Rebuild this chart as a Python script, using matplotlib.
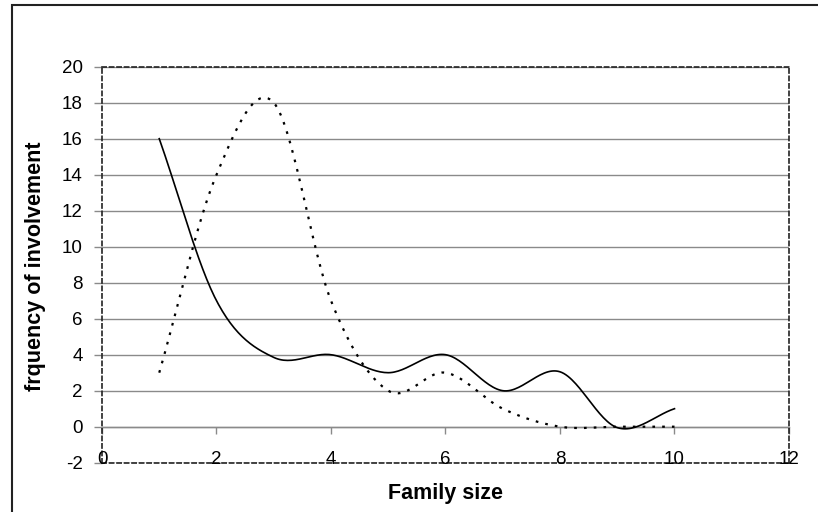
import matplotlib
matplotlib.use('Agg')
import matplotlib.pyplot as plt
import matplotlib.transforms as mtransforms
from matplotlib.patches import Rectangle
import numpy as np

plt.rcParams['font.family'] = ['Liberation Sans', 'DejaVu Sans']
plt.rcParams['axes.unicode_minus'] = False

# Data
family_size = [1, 2, 3, 4, 5, 6, 7, 8, 9, 10]
solid_freq = [16, 7, 3.85, 4, 3, 4, 2, 3.05, -0.05, 1]
dotted_freq = [3, 14, 18, 7, 2, 3, 1, 0, 0, 0]
x_ticks = [0, 2, 4, 6, 8, 10, 12]
y_ticks = [-2, 0, 2, 4, 6, 8, 10, 12, 14, 16, 18, 20]


def smooth(x, y, n=30):
    # Excel-like smoothed line: cubic Bezier through every point
    p = np.column_stack([x, y]).astype(float)
    p = np.vstack([2 * p[0] - p[1], p, 2 * p[-1] - p[-2]])
    t = np.linspace(0, 1, n)[:, None]
    out = []
    for i in range(1, len(p) - 2):
        b0 = p[i]
        b1 = p[i] + (p[i + 1] - p[i - 1]) / 6
        b2 = p[i + 1] - (p[i + 2] - p[i]) / 6
        b3 = p[i + 1]
        seg = ((1 - t) ** 3) * b0 + 3 * ((1 - t) ** 2) * t * b1 + 3 * (1 - t) * t ** 2 * b2 + t ** 3 * b3
        out.append(seg if i == 1 else seg[1:])
    seg = np.vstack(out)
    return seg[:, 0], seg[:, 1]


W, H = 818, 512
fig = plt.figure(figsize=(W / 100, H / 100), dpi=100)
ax = fig.add_axes([102 / W, 1 - 462.7 / H, 687 / W, 396 / H])

grey = '#8a8a8a'

# outer chart border
fig.patches.append(Rectangle((12 / W, -0.2), 1.2, (H - 5) / H + 0.2, transform=fig.transFigure,
                             fill=False, edgecolor='#222222', lw=1.5))

sx, sy = smooth(family_size, solid_freq)
dx, dy = smooth(family_size, dotted_freq)
ax.plot(sx, sy, color='black', lw=1.2, zorder=3)
ax.plot(dx, dy, color='black', lw=1.6, linestyle=(0, (1.2, 3.2)), zorder=3)

ax.set_xlim(0, 12)
ax.set_ylim(-2, 20)
ax.set_yticks(y_ticks)
ax.set_xticks(x_ticks)
ax.yaxis.grid(True, color=grey, lw=1)
ax.set_axisbelow(True)
ax.tick_params(axis='y', length=6, width=1, color=grey, pad=8, labelsize=13.5)
ax.tick_params(axis='x', length=0, labelbottom=False)

for s in ax.spines.values():
    s.set_linestyle((0, (2.5, 2)))
    s.set_color('#222222')
    s.set_linewidth(1.2)

# category axis crossing at y = 0
sec = ax.secondary_xaxis(0, transform=ax.transData)
sec.set_xticks(x_ticks)
sec.tick_params(axis='x', direction='out', length=5, width=1, color=grey, labelbottom=False)
sec.spines['bottom'].set_color(grey)
sec.spines['bottom'].set_linewidth(1)

# tick labels sit on the bottom border
off = mtransforms.ScaledTranslation(0, 3 / 100, fig.dpi_scale_trans)
trans = mtransforms.blended_transform_factory(ax.transData, ax.transAxes) + off
for xt in x_ticks:
    ax.text(xt, 0, str(xt), transform=trans, ha='center', va='center', fontsize=13.5, zorder=5)

fig.text(445.5 / W, 1 - 499 / H, 'Family size', ha='center', va='baseline',
         fontsize=15.5, fontweight='bold')
fig.text(36 / W, 1 - 266 / H, 'frquency of involvement', ha='center', va='center',
         rotation=90, fontsize=15.5, fontweight='bold')

fig.savefig('out.png', dpi=100)
